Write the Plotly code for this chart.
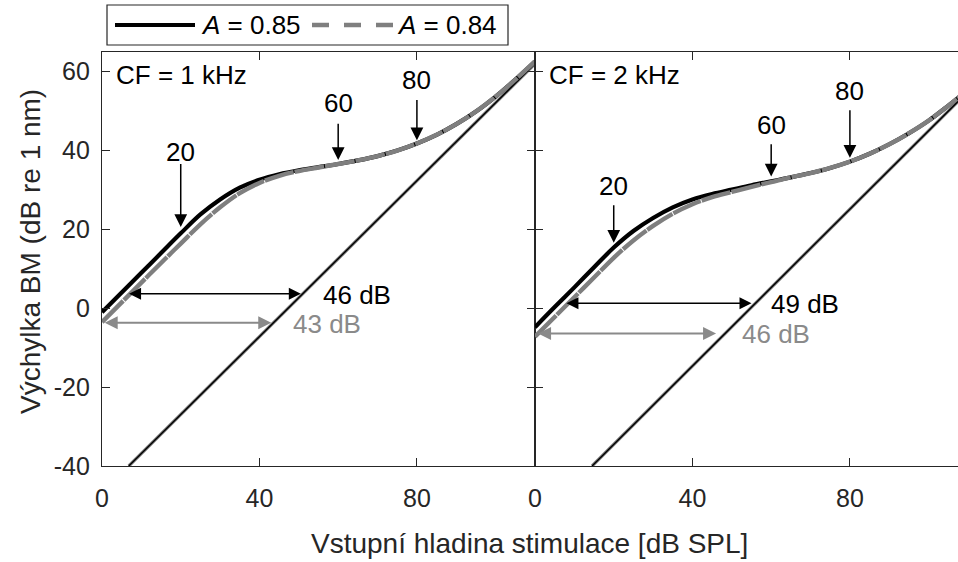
import plotly.graph_objects as go

# ---------------- data ----------------
levels = [0, 5, 10, 15, 20, 25, 30, 35, 40, 45, 50, 55, 60, 65, 70, 75, 80,
          85, 90, 95, 100, 105, 110]

cf1_A085 = [-1.0, 4.0, 9.0, 14.0, 19.0, 23.8, 27.6, 30.6, 32.6, 34.0, 35.0, 35.8,
            36.6, 37.5, 38.6, 40.0, 41.8, 44.0, 46.7, 49.9, 53.7, 58.0, 62.6]
cf1_A084 = [-3.5, 1.5, 6.5, 11.5, 16.4, 21.3, 25.6, 29.2, 31.8, 33.6, 34.8, 35.7,
            36.6, 37.5, 38.6, 40.0, 41.8, 44.0, 46.7, 49.9, 53.7, 58.0, 62.6]
cf2_A085 = [-4.8, 0.3, 5.3, 10.4, 15.4, 19.6, 22.9, 25.6, 27.6, 29.0, 30.1, 31.2,
            32.2, 33.2, 34.3, 35.6, 37.2, 39.2, 41.6, 44.4, 47.6, 51.4, 55.4]
cf2_A084 = [-7.2, -2.2, 2.8, 7.8, 12.8, 17.2, 20.9, 24.0, 26.4, 28.2, 29.5, 30.8,
            32.0, 33.2, 34.3, 35.6, 37.2, 39.2, 41.6, 44.4, 47.6, 51.4, 55.4]

lin1_x = [6.8, 110.0]
lin1_y = [-40.0, 62.0]
lin2_x = [14.5, 110.0]
lin2_y = [-40.0, 55.0]

# level markers: (level, tip y, tail y, label y)
marks_cf1 = [(20, 20.6, 37.0, 39.6), (60, 37.6, 47.2, 52.1), (80, 42.6, 53.2, 57.8)]
marks_cf2 = [(20, 16.6, 26.5, 31.1), (60, 33.4, 42.0, 46.4), (80, 38.2, 50.6, 55.0)]

# horizontal gain arrows: (y, x_start, x_end, label, label_x, label_y)
gain_cf1 = [(3.7, 6.5, 50.5, "46 dB", 64.9, 3.4), (-3.7, 0.3, 43.0, "43 dB", 57.2, -3.9)]
gain_cf2 = [(1.3, 7.6, 55.0, "49 dB", 68.6, 1.2), (-6.4, 0.4, 46.0, "46 dB", 61.2, -6.4)]

y_ticks = [-40, -20, 0, 20, 40, 60]
y_ticktext = ["-40", "-20", "0", "20", "40", "60"]
x_ticks = [0, 40, 80]

# ---------------- styling ----------------
FONT = "Liberation Sans, Arial, Helvetica, sans-serif"
AX = "#262626"
BLACK = "#000000"
GRAY = "#7f7f7f"
GRAY_ARROW = "#8a8a8a"

W, H = 958, 562
ML, MR, MT, MB = 102, 0, 52, 96
PW = W - ML - MR
PH = H - MT - MB
split = 433 / PW


def px(xp):
    return (xp - ML) / PW


def py(yp):
    return (H - MB - yp) / PH


fig = go.Figure()


def add_line(x, y, xa, ya, color, width, dash="solid", shape="spline"):
    fig.add_trace(go.Scatter(
        x=x, y=y, xaxis=xa, yaxis=ya, mode="lines",
        line=dict(color=color, width=width, dash=dash, shape=shape),
        showlegend=False, hoverinfo="skip"))


for (xa, ya, lx, ly, yb, yg) in [("x", "y", lin1_x, lin1_y, cf1_A085, cf1_A084),
                                  ("x2", "y2", lin2_x, lin2_y, cf2_A085, cf2_A084)]:
    add_line(lx, ly, xa, ya, GRAY, 3.2, shape="linear")
    add_line(lx, ly, xa, ya, BLACK, 1.4, shape="linear")
    add_line(levels, yb, xa, ya, BLACK, 4.2)
    add_line(levels, yg, xa, ya, GRAY, 4.4, dash="30px,1px")

annotations = []
tfont = dict(family=FONT, size=26, color=BLACK)

for (xr, yr, marks, gains, cf) in [("x", "y", marks_cf1, gain_cf1, "CF = 1 kHz"),
                                    ("x2", "y2", marks_cf2, gain_cf2, "CF = 2 kHz")]:
    annotations.append(dict(x=3.0, y=59.2, xref=xr, yref=yr, text=cf, showarrow=False,
                            xanchor="left", yanchor="middle", font=tfont))
    for (lv, tip, tail, laby) in marks:
        annotations.append(dict(x=lv, y=tip, ax=lv, ay=tail, xref=xr, yref=yr,
                                axref=xr, ayref=yr, text="", showarrow=True,
                                arrowhead=2, arrowsize=1.7, arrowwidth=1.5,
                                arrowcolor=BLACK, standoff=0))
        annotations.append(dict(x=lv, y=laby, xref=xr, yref=yr, text=str(lv),
                                showarrow=False, xanchor="center", yanchor="middle",
                                font=tfont))
    for i, (gy, x0, x1, lab, labx, laby) in enumerate(gains):
        col = BLACK if i == 0 else GRAY_ARROW
        annotations.append(dict(x=x1, y=gy, ax=x0, ay=gy, xref=xr, yref=yr,
                                axref=xr, ayref=yr, text="", showarrow=True,
                                arrowhead=2, startarrowhead=2, arrowside="end+start",
                                arrowsize=1.6 if i == 0 else 1.3,
                                startarrowsize=1.6 if i == 0 else 1.3,
                                arrowwidth=1.5 if i == 0 else 2.0,
                                arrowcolor=col, standoff=0, startstandoff=0))
        annotations.append(dict(x=labx, y=laby, xref=xr, yref=yr, text=lab,
                                showarrow=False, xanchor="center", yanchor="middle",
                                font=dict(family=FONT, size=26, color=col)))

# axis titles
annotations.append(dict(x=px(529), y=py(543), xref="paper", yref="paper",
                        text="Vstupní hladina stimulace [dB SPL]", showarrow=False,
                        xanchor="center", yanchor="middle",
                        font=dict(family=FONT, size=28, color=AX)))
annotations.append(dict(x=px(30), y=py(252), xref="paper", yref="paper",
                        text="Výchylka BM (dB re 1 nm)", showarrow=False, textangle=-90,
                        xanchor="center", yanchor="middle",
                        font=dict(family=FONT, size=28, color=AX)))

# legend (drawn manually)
leg_y = py(25)
annotations.append(dict(x=px(199), y=leg_y, xref="paper", yref="paper",
                        text="<i>A</i> = 0.85", showarrow=False, xanchor="left",
                        yanchor="middle", font=tfont))
annotations.append(dict(x=px(395), y=leg_y, xref="paper", yref="paper",
                        text="<i>A</i> = 0.84", showarrow=False, xanchor="left",
                        yanchor="middle", font=tfont))
shapes = [
    dict(type="rect", xref="paper", yref="paper", x0=px(107), x1=px(508),
         y0=py(45), y1=py(5), line=dict(color=AX, width=1.2), fillcolor="white"),
    dict(type="line", xref="paper", yref="paper", x0=px(115), x1=px(195),
         y0=leg_y, y1=leg_y, line=dict(color=BLACK, width=4.2)),
    dict(type="line", xref="paper", yref="paper", x0=px(312), x1=px(393),
         y0=leg_y, y1=leg_y, line=dict(color=GRAY, width=4.4, dash="17px,15px")),
]

axis_common = dict(showline=True, linecolor=AX, linewidth=1.2, ticks="inside",
                   ticklen=8, tickwidth=1, tickcolor=AX, showgrid=False,
                   zeroline=False, tickfont=dict(family=FONT, size=25, color=AX))

fig.update_layout(
    width=W, height=H,
    margin=dict(l=ML, r=MR, t=MT, b=MB, pad=0),
    paper_bgcolor="white", plot_bgcolor="white",
    showlegend=False,
    xaxis=dict(domain=[0, split], range=[0, 110], tickvals=x_ticks, mirror="ticks",
               anchor="y", ticklabelstandoff=10, **axis_common),
    xaxis2=dict(domain=[split, 1], range=[0, 110 * (PW - 433) / 433], tickvals=x_ticks,
                mirror="ticks", anchor="y2", ticklabelstandoff=10, **axis_common),
    yaxis=dict(domain=[0, 1], range=[-40, 65], tickvals=y_ticks, ticktext=y_ticktext,
               mirror="ticks", anchor="x", ticklabelstandoff=6, **axis_common),
    yaxis2=dict(domain=[0, 1], range=[-40, 65], tickvals=y_ticks, showticklabels=False,
                mirror=False, anchor="x2", **axis_common),
    annotations=annotations,
    shapes=shapes,
)

fig.write_html("out.html")
